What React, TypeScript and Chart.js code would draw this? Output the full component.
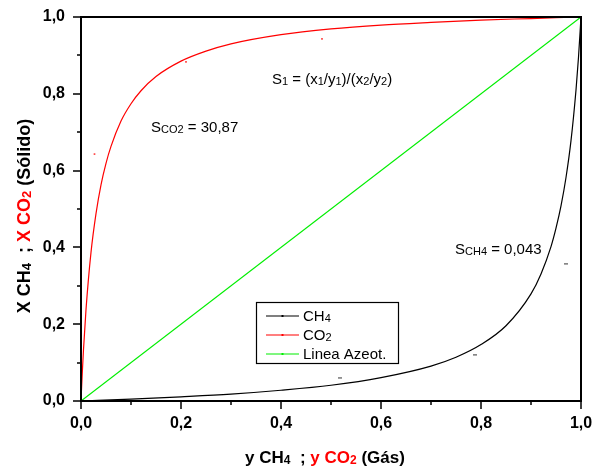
import React, { useEffect, useRef } from 'react';
import { Chart, registerables } from 'chart.js';
Chart.register(...registerables);

// CO2 curve (gas y -> solid x)
const gasCO2 = [0, 0.0025, 0.005, 0.01, 0.02, 0.03, 0.04, 0.05, 0.06, 0.08, 0.1, 0.12, 0.15, 0.2, 0.25, 0.3, 0.4, 0.5, 0.6, 0.7, 0.8, 0.9, 1.0];
const solidCO2 = [0, 0.072, 0.134, 0.238, 0.387, 0.488, 0.563, 0.619, 0.663, 0.729, 0.774, 0.808, 0.845, 0.885, 0.911, 0.93, 0.954, 0.969, 0.979, 0.986, 0.992, 0.996, 1.0];
// CH4 curve
const gasCH4 = [0, 0.1, 0.2, 0.3, 0.4, 0.5, 0.6, 0.7, 0.75, 0.8, 0.85, 0.9, 0.92, 0.94, 0.95, 0.96, 0.97, 0.98, 0.99, 0.995, 1.0];
const solidCH4 = [0, 0.005, 0.011, 0.018, 0.028, 0.041, 0.061, 0.091, 0.114, 0.147, 0.196, 0.279, 0.331, 0.402, 0.45, 0.508, 0.582, 0.678, 0.81, 0.895, 1.0];
// Azeotrope line
const azeoGas = [0, 1];
const azeoSolid = [0, 1];
// Scattered symbols
const symCO2Gas = [0.027, 0.21, 0.482];
const symCO2Solid = [0.643, 0.883, 0.943];
const symCH4Gas = [0.518, 0.788, 0.97];
const symCH4Solid = [0.06, 0.12, 0.357];

const majorTicks = [0, 0.2, 0.4, 0.6, 0.8, 1.0];
const minorTicks = [0.1, 0.3, 0.5, 0.7, 0.9];

const legendLabels = ['CH_{4}', 'CO_{2}', 'Linea Azeot.'];
const legendColors = ['#000000', '#ff0000', '#00ee00'];

const FONT = '"Liberation Sans", Arial, sans-serif';

type Seg = { t: string; sub?: boolean; color?: string };

function parse(s: string, color = '#000'): Seg[] {
  const out: Seg[] = [];
  const re = /_\{([^}]*)\}/g;
  let last = 0;
  let m: RegExpExecArray | null;
  while ((m = re.exec(s))) {
    if (m.index > last) out.push({ t: s.slice(last, m.index), color });
    out.push({ t: m[1], sub: true, color });
    last = m.index + m[0].length;
  }
  if (last < s.length) out.push({ t: s.slice(last), color });
  return out;
}

function drawRich(ctx: CanvasRenderingContext2D, segs: Seg[], x: number, cy: number, size: number, bold: boolean, align: 'left' | 'center') {
  const w = (sg: Seg) => {
    ctx.font = `${bold ? 'bold ' : ''}${sg.sub ? Math.round(size * 0.7) : size}px ${FONT}`;
    return ctx.measureText(sg.t).width;
  };
  const total = segs.reduce((a, s) => a + w(s), 0);
  let cx = align === 'center' ? x - total / 2 : x;
  const base = cy + size * 0.36;
  ctx.textBaseline = 'alphabetic';
  ctx.textAlign = 'left';
  for (const sg of segs) {
    ctx.font = `${bold ? 'bold ' : ''}${sg.sub ? Math.round(size * 0.7) : size}px ${FONT}`;
    ctx.fillStyle = sg.color || '#000';
    ctx.fillText(sg.t, cx, base + (sg.sub ? 1 : 0));
    cx += ctx.measureText(sg.t).width;
  }
}

const decor = {
  id: 'decor',
  afterDraw(chart: any) {
    const ctx: CanvasRenderingContext2D = chart.ctx;
    const { left, right, top, bottom } = chart.chartArea;
    const xs = chart.scales.x;
    const ys = chart.scales.y;
    ctx.save();
    // frame
    ctx.strokeStyle = '#000';
    ctx.lineWidth = 2;
    ctx.strokeRect(left, top, right - left, bottom - top);
    // ticks
    ctx.lineWidth = 1.5;
    ctx.beginPath();
    for (const v of majorTicks) {
      const px = Math.round(xs.getPixelForValue(v));
      ctx.moveTo(px, bottom); ctx.lineTo(px, bottom + 8);
      const py = Math.round(ys.getPixelForValue(v));
      ctx.moveTo(left, py); ctx.lineTo(left - 8, py);
    }
    for (const v of minorTicks) {
      const px = Math.round(xs.getPixelForValue(v));
      ctx.moveTo(px, bottom); ctx.lineTo(px, bottom + 4);
      const py = Math.round(ys.getPixelForValue(v));
      ctx.moveTo(left, py); ctx.lineTo(left - 4, py);
    }
    ctx.stroke();

    // axis titles
    const xTitle: Seg[] = [
      ...parse('y CH_{4}  ; '),
      ...parse('y CO_{2}', '#ff0000'),
      ...parse(' (Gás)'),
    ];
    drawRich(ctx, xTitle, 325, 457, 17, true, 'center');
    const yTitle: Seg[] = [
      ...parse('X CH_{4}  ; '),
      ...parse('X CO_{2}', '#ff0000'),
      ...parse(' (Sólido)'),
    ];
    ctx.save();
    ctx.translate(24, 216);
    ctx.rotate(-Math.PI / 2);
    drawRich(ctx, yTitle, 0, 0, 18, true, 'center');
    ctx.restore();

    // annotations
    drawRich(ctx, parse('S_{1} = (x_{1}/y_{1})/(x_{2}/y_{2})'), 272, 79, 15, false, 'left');
    drawRich(ctx, parse('S_{CO2} = 30,87'), 151, 127, 15, false, 'left');
    drawRich(ctx, parse('S_{CH4} = 0,043'), 455, 249, 15, false, 'left');

    // legend
    ctx.fillStyle = '#fff';
    ctx.fillRect(256, 302, 142, 61);
    ctx.strokeStyle = '#000';
    ctx.lineWidth = 1.2;
    ctx.strokeRect(256.5, 302.5, 142, 61);
    legendLabels.forEach((lab, i) => {
      const y = 316 + i * 19;
      ctx.strokeStyle = legendColors[i];
      ctx.lineWidth = 1.2;
      ctx.beginPath();
      ctx.moveTo(266, y); ctx.lineTo(299, y);
      ctx.stroke();
      ctx.fillStyle = legendColors[i];
      ctx.fillRect(281.5, y - 1, 2, 2);
      drawRich(ctx, parse(lab), 303, y, 15, false, 'left');
    });
    ctx.restore();
  },
};

const zeroPad = (s: any) => {
  s.paddingTop = 0; s.paddingBottom = 0; s.paddingLeft = 0; s.paddingRight = 0;
};

export default function App() {
  const ref = useRef<HTMLCanvasElement>(null);
  useEffect(() => {
    document.body.style.margin = '0';
    const toPts = (xa: number[], ya: number[]) => xa.map((x, i) => ({ x, y: ya[i] }));
    const chart = new Chart(ref.current!, {
      type: 'scatter',
      data: {
        datasets: [
          { label: 'Linea Azeot.', data: toPts(azeoGas, azeoSolid), showLine: true, borderColor: '#00ee00', borderWidth: 1.2, pointRadius: 0 },
          { label: 'CO2', data: toPts(gasCO2, solidCO2), showLine: true, borderColor: '#ff0000', borderWidth: 1.2, pointRadius: 0, cubicInterpolationMode: 'monotone' },
          { label: 'CH4', data: toPts(gasCH4, solidCH4), showLine: true, borderColor: '#000000', borderWidth: 1.2, pointRadius: 0, cubicInterpolationMode: 'monotone' },
          { label: 'symCO2', data: toPts(symCO2Gas, symCO2Solid), showLine: false, pointStyle: 'rect', pointRadius: 1.2, backgroundColor: '#ff4444', borderWidth: 0 },
          { label: 'symCH4', data: toPts(symCH4Gas, symCH4Solid), showLine: false, pointStyle: 'line', pointRadius: 2, borderColor: '#333', borderWidth: 1 },
        ],
      } as any,
      options: {
        animation: false,
        responsive: true,
        maintainAspectRatio: false,
        layout: { padding: { top: 17, right: 13, bottom: 0, left: 0 } },
        plugins: { legend: { display: false }, tooltip: { enabled: false } },
        scales: {
          x: {
            type: 'linear', min: 0, max: 1,
            grid: { display: false, drawTicks: false },
            border: { display: false },
            ticks: {
              stepSize: 0.2, padding: 13, color: '#000',
              font: { family: FONT, size: 16, weight: 'bold' },
              callback: (v: any) => Number(v).toFixed(1).replace('.', ','),
            },
            afterFit: (s: any) => { s.height = 67; zeroPad(s); },
          },
          y: {
            type: 'linear', min: 0, max: 1,
            grid: { display: false, drawTicks: false },
            border: { display: false },
            ticks: {
              stepSize: 0.2, padding: 16, color: '#000',
              font: { family: FONT, size: 16, weight: 'bold' },
              callback: (v: any) => Number(v).toFixed(1).replace('.', ','),
            },
            afterFit: (s: any) => { s.width = 81; zeroPad(s); },
          },
        },
      } as any,
      plugins: [decor],
    });
    return () => chart.destroy();
  }, []);
  return (
    <div style={{ width: 594, height: 468, position: 'relative', background: '#fff' }}>
      <canvas ref={ref} />
    </div>
  );
}
